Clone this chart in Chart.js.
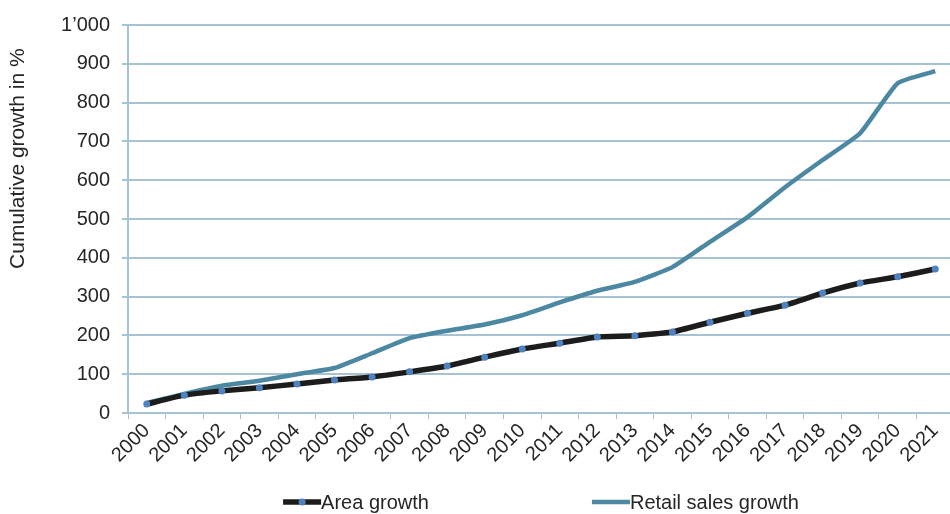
<!DOCTYPE html>
<html>
<head>
<meta charset="utf-8">
<script src="https://cdn.jsdelivr.net/npm/chart.js@4"></script>
<style>
  html, body { margin: 0; padding: 0; background: #fff; overflow: hidden; }
  #chart_canvas { display: block; }
</style>
</head>
<body>
<canvas id="chart_canvas" width="958" height="514"></canvas>
<script>
"use strict";
const years = ["2000", "2001", "2002", "2003", "2004", "2005", "2006", "2007", "2008", "2009", "2010",
  "2011", "2012", "2013", "2014", "2015", "2016", "2017", "2018", "2019", "2020", "2021"];
const area_growth = [23, 46, 57, 65, 75, 85, 93, 106, 121, 144, 165, 180, 196, 199, 209, 234, 257, 278, 309, 335, 351, 371];
const retail_growth = [26, 49, 70, 83, 100, 116, 154, 193, 212, 228, 252, 285, 315, 338, 376, 441, 505, 582, 652, 721, 850, 881];
const y_ticks = [0, 100, 200, 300, 400, 500, 600, 700, 800, 900, 1000];

const grid_color = "#a6c2d3";
const text_color = "#262626";
const font_family = "'Liberation Sans', Arial, sans-serif";

Chart.defaults.font.family = font_family;
Chart.defaults.color = text_color;

// legend drawn below the axis labels, centred on the plot area
const bottom_legend = {
  id: "bottom_legend",
  afterDraw(chart) {
    const ctx = chart.ctx;
    const area = chart.chartArea;
    const line_len = 38;
    const gap = 163;
    const y = 502;
    ctx.save();
    ctx.font = "20px " + font_family;
    ctx.textBaseline = "middle";
    const items = chart.data.datasets.map(ds => ({
      ds: ds,
      w: line_len + ctx.measureText(ds.label).width
    }));
    const total = items.reduce((s, it) => s + it.w, 0) + gap * (items.length - 1);
    let x = (area.left + area.right) / 2 - total / 2;
    items.forEach(it => {
      ctx.strokeStyle = it.ds.borderColor;
      ctx.lineWidth = it.ds.borderWidth;
      ctx.beginPath();
      ctx.moveTo(x, y);
      ctx.lineTo(x + line_len, y);
      ctx.stroke();
      if (it.ds.pointRadius > 0) {
        ctx.fillStyle = it.ds.pointBackgroundColor;
        ctx.beginPath();
        ctx.arc(x + line_len / 2, y, it.ds.pointRadius, 0, Math.PI * 2);
        ctx.fill();
      }
      ctx.fillStyle = text_color;
      ctx.textAlign = "left";
      ctx.fillText(it.ds.label, x + line_len, y + 1);
      x += it.w + gap;
    });
    ctx.restore();
  }
};

new Chart(document.getElementById("chart_canvas"), {
  type: "line",
  data: {
    labels: years,
    datasets: [
      {
        label: "Area growth",
        data: area_growth,
        borderColor: "#1c1c1c",
        borderWidth: 5.5,
        pointRadius: 3.5,
        pointBackgroundColor: "#4f82c0",
        pointBorderWidth: 0,
        tension: 0.15
      },
      {
        label: "Retail sales growth",
        data: retail_growth,
        borderColor: "#4d88a3",
        borderWidth: 4.5,
        pointRadius: 0,
        tension: 0.15
      }
    ]
  },
  options: {
    responsive: false,
    animation: false,
    layout: { padding: { top: 25, right: 0, bottom: 40, left: 0 } },
    plugins: {
      legend: { display: false },
      tooltip: { enabled: false }
    },
    scales: {
      x: {
        offset: true,
        grid: { drawOnChartArea: false, drawTicks: true, tickLength: 6, color: grid_color, offset: true },
        border: { color: grid_color, width: 2 },
        ticks: { maxRotation: 45, minRotation: 45, padding: 0, font: { size: 20 }, color: text_color, autoSkip: false },
        afterFit: scale => { scale.height = 61; }
      },
      y: {
        min: 0,
        max: 1000,
        afterBuildTicks: scale => { scale.ticks = y_ticks.map(v => ({ value: v })); },
        grid: { color: grid_color, lineWidth: 2, tickLength: 6 },
        border: { color: grid_color, width: 2 },
        ticks: {
          padding: 12,
          font: { size: 20 },
          color: text_color,
          callback: v => String(v).replace(/\B(?=(\d{3})+(?!\d))/g, "\u2019")
        },
        title: {
          display: true,
          // trailing spaces push the title down a little from the top end
          text: "Cumulative growth in %    ",
          align: "end",
          font: { size: 21 },
          color: text_color,
          padding: { top: 6, bottom: 0 }
        },
        afterFit: scale => { scale.width = 128; }
      }
    }
  },
  plugins: [bottom_legend]
});
</script>
</body>
</html>
